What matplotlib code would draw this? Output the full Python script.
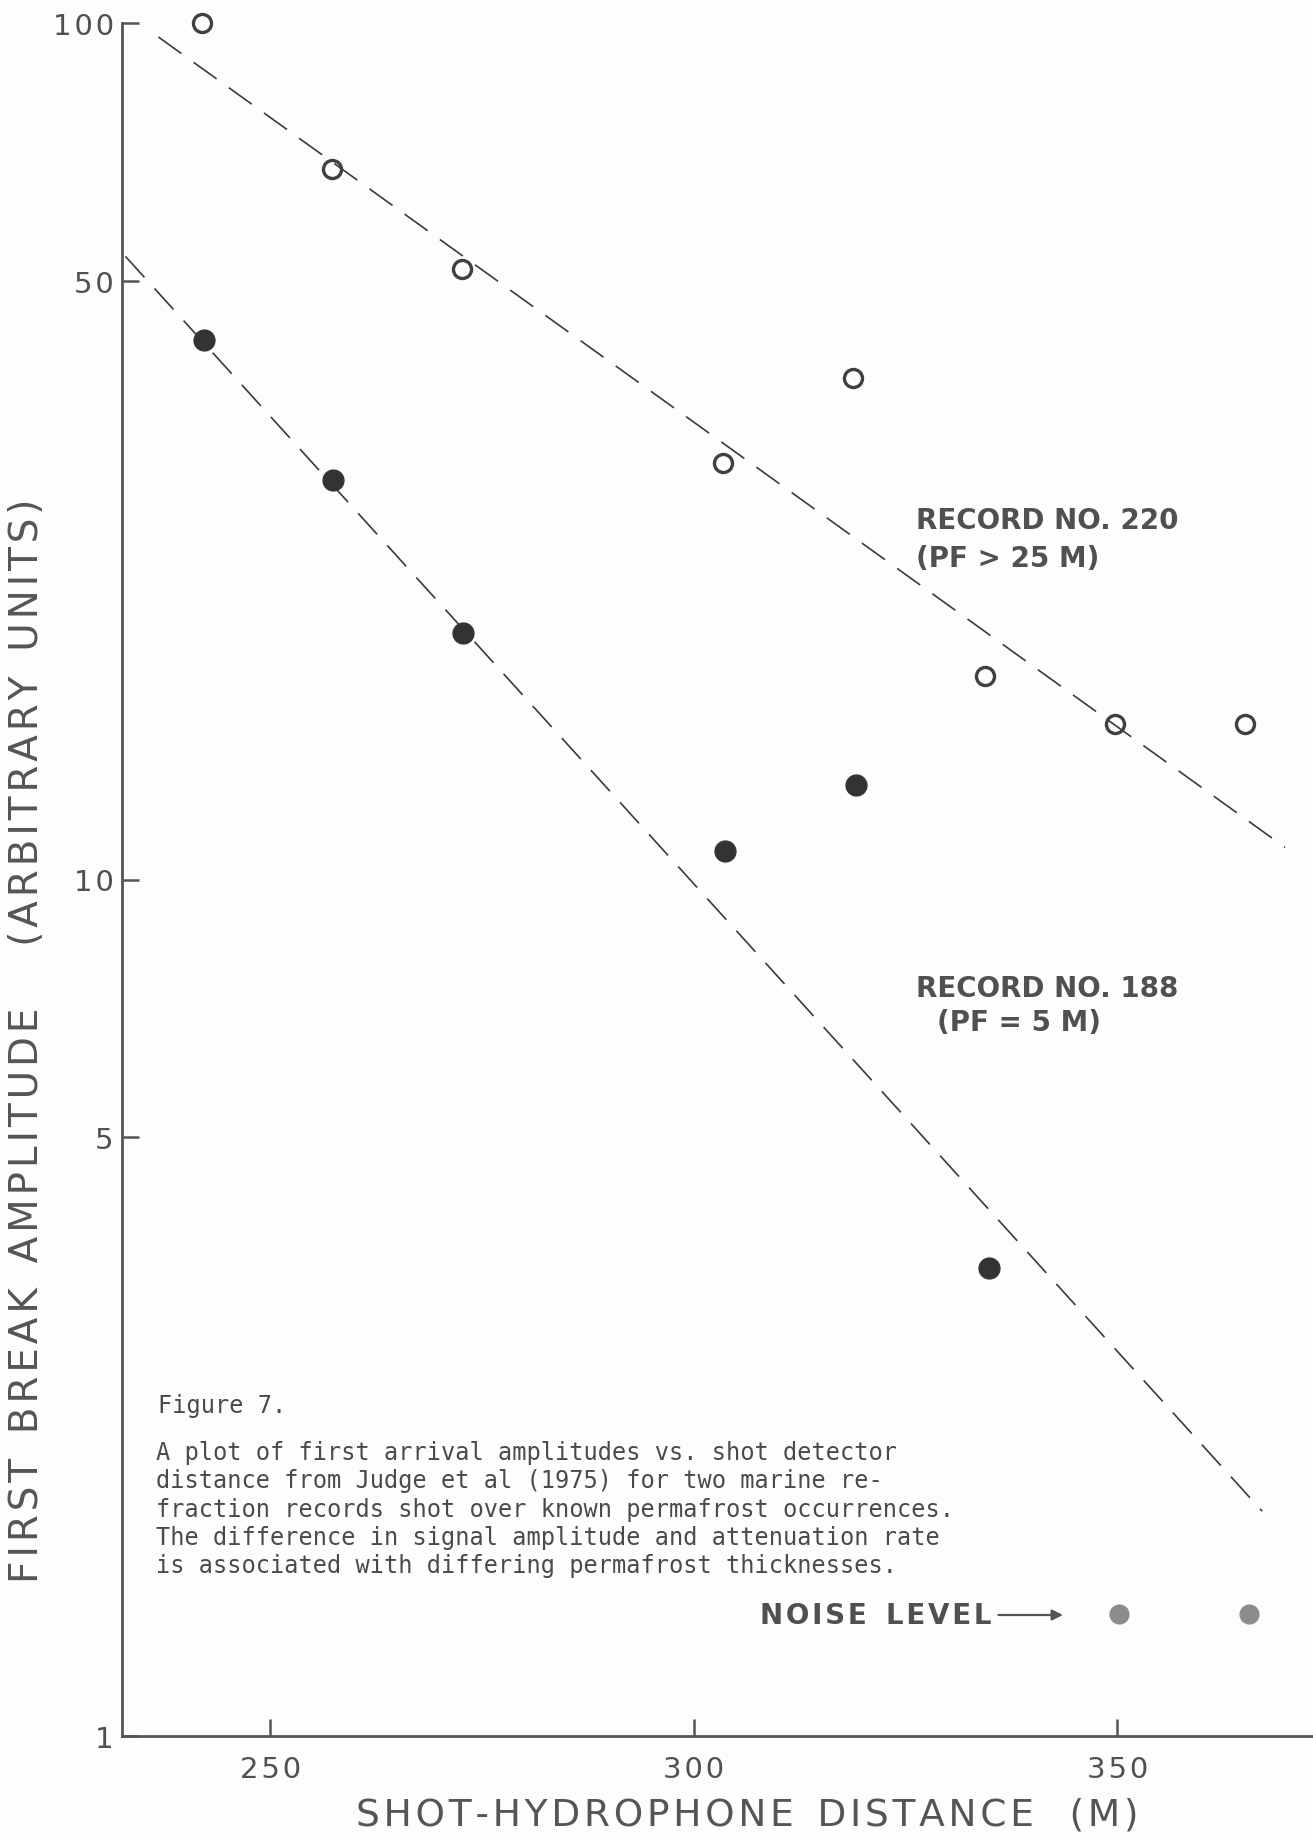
import numpy as np
import matplotlib
matplotlib.use("Agg")
import matplotlib.pyplot as plt

# shot-hydrophone distance (m) for each picked shot
dist_220 = [242.0, 257.3, 272.6, 303.5, 318.8, 334.4, 349.7, 365.1]
amp_220 = [100.0, 67.6, 51.6, 30.6, 38.5, 17.3, 15.2, 15.2]

dist_188 = [242.2, 257.4, 272.8, 303.7, 319.1, 334.9]
amp_188 = [42.7, 29.3, 19.4, 10.8, 12.9, 3.52]

dist_noise = [350.2, 365.6]
amp_noise = [1.39, 1.39]

# hand drawn trend lines (end points)
fit_220_x = [236.8, 369.8]
fit_220_y = [96.3, 10.9]
fit_188_x = [232.9, 367.1]
fit_188_y = [53.4, 1.83]

y_ticks = [1, 5, 10, 50, 100]
y_ticklabels = ["1", "5", "10", "50", "100"]
x_ticks = [250, 300, 350]

caption_title = "Figure 7."
caption_lines = [
    "A plot of first arrival amplitudes vs. shot detector",
    "distance from Judge et al (1975) for two marine re-",
    "fraction records shot over known permafrost occurrences.",
    "The difference in signal amplitude and attenuation rate",
    "is associated with differing permafrost thicknesses.",
]


def spaced(s):
    # old lettering was spaced out, fake it with hair spaces
    return "\u200a".join(s)


W, H = 1313, 1840
fig = plt.figure(figsize=(W / 100, H / 100), dpi=100)
fig.patch.set_facecolor("#fdfdfd")

left, right = 122 / W, 1.0
bottom, top = 1 - 1737 / H, 1 - 24 / H
ax = fig.add_axes([left, bottom, right - left, top - bottom])
ax.set_facecolor("#fdfdfd")

ax.set_yscale("log")
ax.set_ylim(1, 100)
ax.set_xlim(232.5, 373.1)

ink = "#3a3a3a"
grey_text = "#505050"

ax.plot(fit_220_x, fit_220_y, color=ink, lw=1.2, dashes=(17, 9), clip_on=False)
ax.plot(fit_188_x, fit_188_y, color=ink, lw=1.2, dashes=(17, 9), clip_on=False)

ax.plot(dist_220, amp_220, "o", ms=13, mfc="none", mec="#404040", mew=2.4, clip_on=False)
ax.plot(dist_188, amp_188, "o", ms=15, mfc="#333333", mec="#333333", clip_on=False)
ax.plot(dist_noise, amp_noise, "o", ms=13.5, mfc="#8c8c8c", mec="#8c8c8c", clip_on=False)

for s in ["top", "right"]:
    ax.spines[s].set_visible(False)
for s in ["left", "bottom"]:
    ax.spines[s].set_color("#555555")
    ax.spines[s].set_linewidth(2.0)

ax.set_yticks(y_ticks)
ax.set_yticklabels([spaced(t) for t in y_ticklabels])
ax.yaxis.set_minor_locator(matplotlib.ticker.NullLocator())
ax.set_xticks(x_ticks)
ax.set_xticklabels([spaced(str(t)) for t in x_ticks])
ax.tick_params(axis="both", direction="in", length=12, width=1.8, colors="#555555",
               labelsize=21, labelcolor=grey_text)
ax.tick_params(axis="y", pad=6)
ax.tick_params(axis="x", pad=14)

# annotations
rec_font = dict(fontsize=20, color="#505050", family="DejaVu Sans", fontweight="bold")
ax.text(0.667, 0.705, "RECORD NO. 220", transform=ax.transAxes, **rec_font)
ax.text(0.667, 0.683, "(PF > 25 M)", transform=ax.transAxes, **rec_font)
ax.text(0.667, 0.432, "RECORD NO. 188", transform=ax.transAxes, **rec_font)
ax.text(0.684, 0.412, "(PF = 5 M)", transform=ax.transAxes, **rec_font)

ax.annotate(spaced("NOISE") + "  " + spaced("LEVEL"),
            xy=(1063 / W, 1 - 1616 / H), xycoords="figure fraction",
            xytext=(760 / W, 1 - 1616 / H), textcoords="figure fraction",
            va="center", ha="left", color="#505050", fontsize=20, fontweight="bold",
            arrowprops=dict(arrowstyle="-|>", color="#555555", lw=1.6,
                            mutation_scale=16, shrinkA=3, shrinkB=0))

mono = dict(family="DejaVu Sans Mono", fontsize=17, color="#4a4a4a")
fig.text(158 / W, 1 - 1406 / H, caption_title, va="center", **mono)
for i, line in enumerate(caption_lines):
    fig.text(156 / W, 1 - (1453 + 28.3 * i) / H, line, va="center", **mono)

ylab = spaced("FIRST") + "  " + spaced("BREAK") + "  " + spaced("AMPLITUDE") + "     " \
    + spaced("(ARBITRARY") + "  " + spaced("UNITS)")
xlab = spaced("SHOT-HYDROPHONE") + "  " + spaced("DISTANCE") + "   " + spaced("(M)")
fig.text(27 / W, 1 - 1041 / H, ylab, rotation=90, ha="center", va="center",
         fontsize=28, color="#555555")
fig.text(747 / W, 1 - 1816 / H, xlab, ha="center", va="center",
         fontsize=27, color="#555555")

fig.savefig("out.png", dpi=100, facecolor=fig.get_facecolor())
